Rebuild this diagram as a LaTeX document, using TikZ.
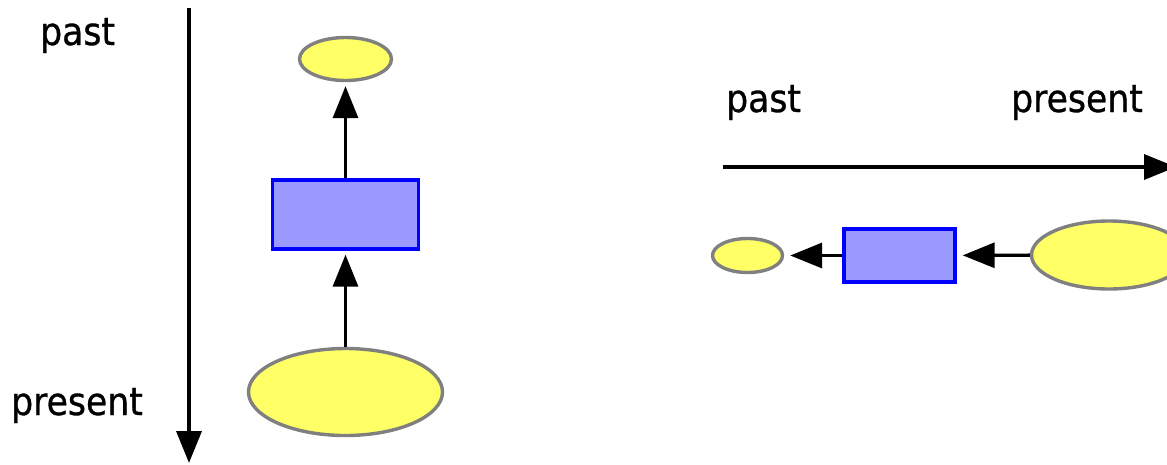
\documentclass[tikz,border=0pt]{standalone}
\usepackage{fontspec}
\setmainfont[FakeBold=0.8]{DejaVu Sans Condensed}
\usetikzlibrary{arrows.meta,shapes.geometric}
\definecolor{placefill}{HTML}{FFFF66}
\definecolor{placeline}{HTML}{808080}
\definecolor{transfill}{HTML}{9999FF}
\definecolor{transline}{HTML}{0000FF}
\tikzset{
  place/.style={ellipse, draw=placeline, fill=placefill, line width=3.4pt, inner sep=0pt},
  trans/.style={rectangle, draw=transline, fill=transfill, line width=3.4pt, inner sep=0pt},
  flow/.style={line width=3.4pt, -{Triangle[length=32pt,width=25pt]}, shorten >=4pt},
  timeline/.style={line width=3.6pt, -{Triangle[length=32pt,width=25pt]}},
  label/.style={anchor=base west, inner sep=0pt, font=\fontsize{38.5}{42}\selectfont},
}
\begin{document}
\begin{tikzpicture}[x=1pt,y=-1pt]
  \useasboundingbox (0,0) rectangle (1167,464);
  \clip (0,0) rectangle (1167,464);

  % vertical time axis
  \coordinate (vtop) at (189,8);
  \coordinate (vbot) at (189,463);
  \draw[timeline] (vtop) -- (vbot);
  \node[label] (vpast) at (40,45) {past};
  \node[label] (vpresent) at (11,415) {present};

  % vertical chain
  \node[place, minimum width=92pt, minimum height=43pt] (vp1) at (345.5,59) {};
  \node[trans, minimum width=146pt, minimum height=69pt] (vt) at (345.5,214.5) {};
  \node[place, minimum width=194pt, minimum height=87pt] (vp2) at (345.5,392) {};
  \draw[flow] (vt) -- (vp1);
  \draw[flow] (vp2) -- (vt);

  % horizontal time axis
  \coordinate (hleft) at (723,167);
  \coordinate (hright) at (1176,167);
  \draw[timeline] (hleft) -- (hright);
  \node[label] (hpast) at (726,112) {past};
  \node[label] (hpresent) at (1011,112) {present};

  % horizontal chain
  \node[place, minimum width=70pt, minimum height=34pt] (hp1) at (747.5,255.5) {};
  \node[trans, minimum width=111pt, minimum height=53pt] (ht) at (899.5,255.5) {};
  \node[place, minimum width=155pt, minimum height=68pt] (hp2) at (1109,255) {};
  \draw[flow, shorten >=6pt] (ht) -- (hp1);
  \draw[flow, shorten >=6pt] (hp2) -- (ht);
\end{tikzpicture}
\end{document}
